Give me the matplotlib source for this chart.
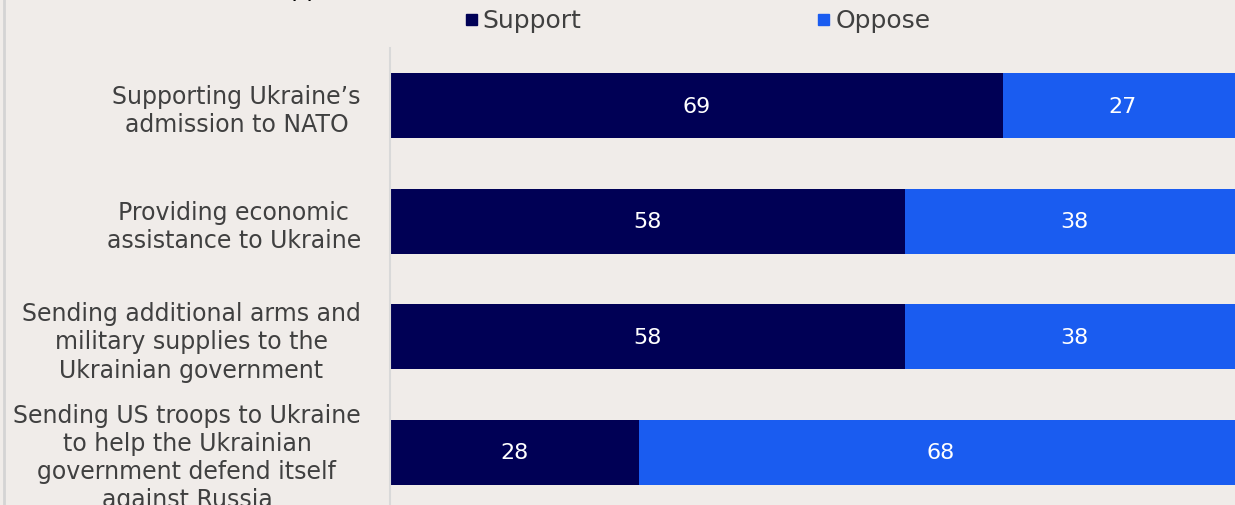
import matplotlib
matplotlib.use("Agg")
import matplotlib.pyplot as plt
from matplotlib.patches import Rectangle

# Survey items and results (% support / oppose)
labels = [
    "Supporting Ukraine\u2019s\nadmission to NATO",
    "Providing economic\nassistance to Ukraine",
    "Sending additional arms and\nmilitary supplies to the\nUkrainian government",
    "Sending US troops to Ukraine\nto help the Ukrainian\ngovernment defend itself\nagainst Russia",
]
support = [69, 58, 58, 28]
oppose = [27, 38, 38, 68]

bg = "#f0ece9"
c_support = "#000055"
c_oppose = "#1a5cf0"
txt = "#404040"

plt.rcParams['font.family'] = ['DejaVu Sans']

fig = plt.figure(figsize=(12.35, 5.06), dpi=100, facecolor=bg)
W, H = 1235, 506
ax = fig.add_axes([390 / W, (506 - 511) / H, 1 - 390 / W, (511 - 49) / H])
ax.set_facecolor(bg)

y = list(range(len(labels)))
ax.barh(y, support, height=0.565, color=c_support, linewidth=0)
ax.barh(y, oppose, left=support, height=0.565, color=c_oppose, linewidth=0)

for i in y:
    ax.text(support[i] / 2, i, str(support[i]), ha='center', va='center',
            color='white', fontsize=16)
    ax.text(support[i] + oppose[i] / 2, i, str(oppose[i]), ha='center', va='center',
            color='white', fontsize=16)

ax.set_xlim(0, (1235 - 390) / ((1003 - 390) / 69))
ax.set_ylim(len(labels) - 0.5, -0.5)
ax.set_xticks([])
ax.set_yticks(y)
ax.set_yticklabels(labels, fontsize=17, color=txt, linespacing=1.22,
                   multialignment='center')
ax.tick_params(axis='y', length=0, pad=21)
for s in ['top', 'right', 'bottom']:
    ax.spines[s].set_visible(False)
ax.spines['left'].set_color('#d9d9d9')
ax.spines['left'].set_linewidth(1.5)

# legend drawn by hand along the top
fig.patches.append(Rectangle((466 / W, 1 - 26 / H), 11 / W, 11 / H,
                             transform=fig.transFigure, color=c_support))
fig.text(482 / W, 1 - 21 / H, "Support", fontsize=18, color=txt, va='center')
fig.patches.append(Rectangle((818 / W, 1 - 26 / H), 11 / W, 11 / H,
                             transform=fig.transFigure, color=c_oppose))
fig.text(836 / W, 1 - 21 / H, "Oppose", fontsize=18, color=txt, va='center')

# subtitle cut off at the top edge, as in the source
fig.text(364 / W, 1 + 4 / H, "(% support)", fontsize=17, color='black',
         ha='right', va='baseline')

# thin frame line on the left
fig.add_artist(plt.Line2D([4 / W, 4 / W], [0, 1], transform=fig.transFigure,
                          color='#d4d4d4', linewidth=2))

fig.savefig("out.png", dpi=100, facecolor=bg)
